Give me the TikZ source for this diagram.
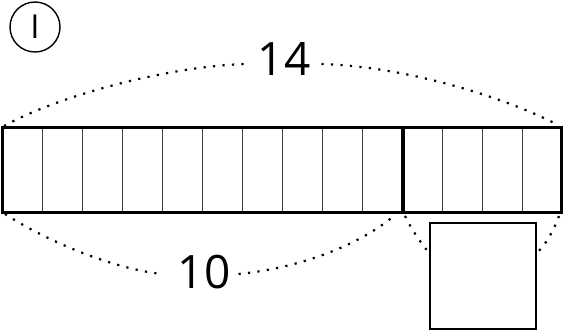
\documentclass[tikz,border=0pt]{standalone}
\usepackage{fontspec}
\setmainfont{Open Sans}
\begin{document}
\begin{tikzpicture}[x=1pt,y=-1pt,
  dotline/.style={line width=2.2pt, dash pattern=on 2.2pt off 7.3pt},
  cellline/.style={line width=1pt, draw=black!75},
  numlabel/.style={inner ysep=0pt, inner xsep=0pt, font=\fontsize{46}{50}\selectfont}]
\useasboundingbox (0,0) rectangle (563,333);
% circled mark
\node[circle, draw, line width=1.4pt, minimum size=50pt, inner sep=0pt,
      font=\fontsize{33}{36}\selectfont] (c1) at (35,27) {I};
% bar
\coordinate (TL) at (2.5,127.5);
\coordinate (TR) at (561.5,127.5);
\coordinate (BL) at (2.5,212.5);
\coordinate (BR) at (561.5,212.5);
\coordinate (M10) at (403,212.5);
\foreach \i in {1,...,13} {
  \draw[cellline] ({2.5+40*\i},127.5) -- ({2.5+40*\i},212.5);
}
\draw[line width=4pt] (403,127.5) -- (M10);
\draw[line width=2.6pt] (TL) rectangle (BR);
% labels
\node[numlabel] (l14) at (284,59) {14};
\node[numlabel] (l10) at (204,272) {10};
% square
\node[draw, line width=1.5pt, minimum size=106pt, inner sep=0pt] (sq) at (483,276) {};
% dotted arcs
\draw[dotline] (4,126) .. controls (60,95) and (170,66) .. ([xshift=-11pt,yshift=-5pt]l14.west);
\draw[dotline] ([xshift=11pt,yshift=-5pt]l14.east) .. controls (400,66) and (500,95) .. (556,124);
\draw[dotline] (5,214) .. controls (45,240) and (110,268) .. ([xshift=-16pt,yshift=-2pt]l10.west);
\draw[dotline] ([xshift=8pt,yshift=-2pt]l10.east) .. controls (300,268) and (360,245) .. (395,215);
\draw[dotline] (405,216) .. controls (412,230) and (420,242) .. ([yshift=23pt]sq.west);
\draw[dotline] (559,216) .. controls (553,232) and (546,244) .. ([yshift=23pt]sq.east);
\end{tikzpicture}
\end{document}
